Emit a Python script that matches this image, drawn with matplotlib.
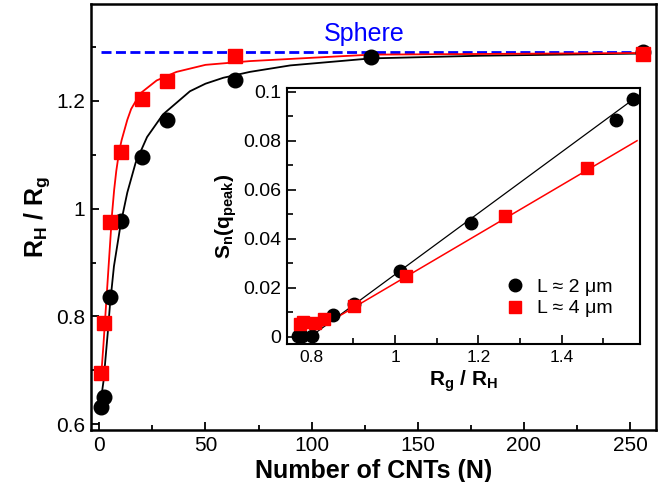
import matplotlib
matplotlib.use("Agg")
import matplotlib.pyplot as plt
from matplotlib.ticker import MultipleLocator, FormatStrFormatter

plt.rcParams['font.family'] = ['Liberation Sans', 'DejaVu Sans']
plt.rcParams['mathtext.fontset'] = 'custom'
plt.rcParams['mathtext.rm'] = 'Liberation Sans'
plt.rcParams['mathtext.it'] = 'Liberation Sans:italic'
plt.rcParams['mathtext.bf'] = 'Liberation Sans:bold'

# main panel: R_H/R_g vs number of CNTs
n_2um = [1, 2, 5, 10, 20, 32, 64, 128, 256]
rh_2um = [0.632, 0.651, 0.836, 0.977, 1.096, 1.164, 1.238, 1.282, 1.291]
n_4um = [1, 2, 5, 10, 20, 32, 64, 256]
rh_4um = [0.695, 0.787, 0.976, 1.106, 1.203, 1.237, 1.283, 1.288]

# fitted curves
fit_n_2um = [1, 2, 3, 4, 5, 6.9, 10.1, 13.2, 17.1, 22.5, 30, 42.7, 50, 58.4, 71, 90, 128, 180, 256]
fit_rh_2um = [0.652, 0.68, 0.725, 0.77, 0.82, 0.893, 0.972, 1.03, 1.085, 1.133, 1.175,
              1.218, 1.232, 1.243, 1.254, 1.266, 1.279, 1.284, 1.288]
fit_n_4um = [1, 2, 3, 4, 5, 6, 7, 8, 9.3, 10.5, 13.2, 15, 19.3, 27, 36.4, 50, 71, 128, 256]
fit_rh_4um = [0.695, 0.75, 0.81, 0.87, 0.93, 0.99, 1.035, 1.07, 1.105, 1.127, 1.165,
              1.185, 1.214, 1.238, 1.254, 1.267, 1.274, 1.286, 1.289]

sphere_value = 1.291
sphere_n = [1, 256]

# inset: S_n(q_peak) vs R_g/R_H
rg_2um = [0.768, 0.776, 0.800, 0.850, 0.902, 1.012, 1.183, 1.530, 1.572]
sq_2um = [0.0003, 0.0003, 0.0003, 0.0087, 0.0133, 0.0269, 0.0463, 0.0884, 0.097]
rg_4um = [0.772, 0.780, 0.808, 0.830, 0.902, 1.027, 1.265, 1.460]
sq_4um = [0.005, 0.0058, 0.0057, 0.0071, 0.0127, 0.0248, 0.0493, 0.0687]

lin_rg_2um = [0.797, 1.588]
lin_sq_2um = [0.0, 0.0989]
lin_rg_4um = [0.785, 1.581]
lin_sq_4um = [0.0003, 0.0800]

RED = '#ff0000'
BLUE = '#0000ff'

fig = plt.figure(figsize=(6.6, 4.82), dpi=100)
ax = fig.add_axes([0.1379, 0.1079, 0.856, 0.8838])

ax.plot(sphere_n, [sphere_value, sphere_value], color=BLUE, lw=2.0, dashes=(3.6, 1.6), zorder=2)
ax.plot(fit_n_2um, fit_rh_2um, color='black', lw=1.3, zorder=3)
ax.plot(fit_n_4um, fit_rh_4um, color=RED, lw=1.3, zorder=3)
ax.plot(n_2um, rh_2um, 'o', color='black', ms=10.5, mec='black', zorder=4)
ax.plot(n_4um, rh_4um, 's', color=RED, ms=10, mec=RED, zorder=5)
ax.text(125, 1.311, 'Sphere', color=BLUE, fontsize=18, ha='center', va='baseline')

ax.set_xlim(-3.9, 262.2)
ax.set_ylim(0.589, 1.38)
ax.xaxis.set_major_locator(MultipleLocator(50))
ax.xaxis.set_minor_locator(MultipleLocator(25))
ax.yaxis.set_major_locator(MultipleLocator(0.2))
ax.yaxis.set_minor_locator(MultipleLocator(0.1))
ax.yaxis.set_major_formatter(FormatStrFormatter('%g'))
ax.tick_params(which='both', direction='in', top=False, right=False, labelsize=15, width=1.3)
ax.tick_params(which='major', length=6, pad=4)
ax.tick_params(which='minor', length=3.5)
for s in ax.spines.values():
    s.set_linewidth(1.8)
ax.set_xlabel('Number of CNTs (N)', fontsize=18, fontweight='bold', labelpad=3)
ax.set_ylabel(r'$\mathbf{R_H\ /\ R_g}$', fontsize=18, labelpad=3)

# inset
ax_in = fig.add_axes([0.4348, 0.2863, 0.5348, 0.531])
ax_in.plot(lin_rg_2um, lin_sq_2um, color='black', lw=0.9, zorder=2)
ax_in.plot(lin_rg_4um, lin_sq_4um, color=RED, lw=1.1, zorder=2)
ax_in.plot(rg_2um, sq_2um, 'o', color='black', ms=9, mec='black', zorder=3,
           label='L \u2248 2 \u03bcm')
ax_in.plot(rg_4um, sq_4um, 's', color=RED, ms=8, mec=RED, zorder=4,
           label='L \u2248 4 \u03bcm')
ax_in.set_xlim(0.7406, 1.588)
ax_in.set_ylim(-0.003, 0.1015)
ax_in.xaxis.set_major_locator(MultipleLocator(0.2))
ax_in.xaxis.set_minor_locator(MultipleLocator(0.1))
ax_in.yaxis.set_major_locator(MultipleLocator(0.02))
ax_in.yaxis.set_minor_locator(MultipleLocator(0.01))
ax_in.xaxis.set_major_formatter(FormatStrFormatter('%g'))
ax_in.yaxis.set_major_formatter(FormatStrFormatter('%g'))
ax_in.tick_params(which='both', direction='in', top=False, right=False, width=1.2)
ax_in.tick_params(axis='y', labelsize=14)
ax_in.tick_params(axis='x', labelsize=12.5)
ax_in.tick_params(which='major', length=6.5, pad=4)
ax_in.tick_params(which='minor', length=4)
for s in ax_in.spines.values():
    s.set_linewidth(1.5)
ax_in.set_xlabel(r'$\mathbf{R_g\ /\ R_H}$', fontsize=15, labelpad=3)
ax_in.set_ylabel(r'$\mathbf{S_n(q_{peak})}$', fontsize=15, labelpad=3)
ax_in.legend(loc='center left', bbox_to_anchor=(0.618, 0.18), frameon=False,
             fontsize=14, handlelength=1.0, handletextpad=0.63, labelspacing=0.2,
             borderpad=0, borderaxespad=0)

fig.savefig('out.png', dpi=100)
